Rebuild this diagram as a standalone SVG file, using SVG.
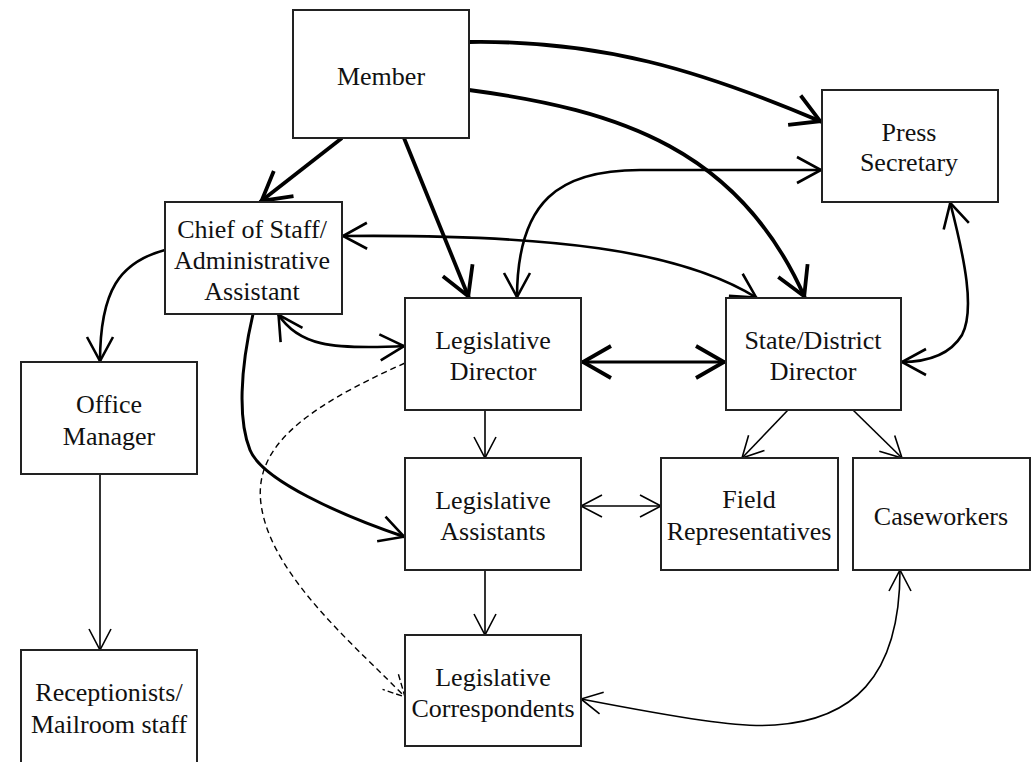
<svg xmlns="http://www.w3.org/2000/svg" width="1036" height="762" viewBox="0 0 1036 762">
<style>
.box{fill:#fff;stroke:#222;stroke-width:2}
text{font-family:'Liberation Serif','DejaVu Serif',Times,serif;font-size:26px;fill:#111;text-anchor:middle}
.c{fill:none;stroke:#000;stroke-linecap:butt}
.thin{stroke-width:1.6}
.med{stroke-width:2.6}
.thick{stroke-width:3.8}
.dash{stroke-width:1.4;stroke-dasharray:6 4}
</style>
<defs>
<marker id="aThin" viewBox="-30 -16 34 32" refX="0" refY="0" markerWidth="34" markerHeight="32" markerUnits="userSpaceOnUse" orient="auto-start-reverse">
<path d="M-21,-11 L0,0 L-21,11" fill="none" stroke="#000" stroke-width="1.6"/>
</marker>
<marker id="aDash" viewBox="-30 -16 34 32" refX="0" refY="0" markerWidth="34" markerHeight="32" markerUnits="userSpaceOnUse" orient="auto-start-reverse">
<path d="M-21,-11 L0,0 L-21,11" fill="none" stroke="#000" stroke-width="1.4" stroke-dasharray="6 3"/>
</marker>
<marker id="aMed" viewBox="-32 -18 36 36" refX="0" refY="0" markerWidth="36" markerHeight="36" markerUnits="userSpaceOnUse" orient="auto-start-reverse">
<path d="M-25,-13 L-1,0 L-25,13" fill="none" stroke="#000" stroke-width="2.6"/>
</marker>
<marker id="aThick" viewBox="-36 -20 40 40" refX="0" refY="0" markerWidth="40" markerHeight="40" markerUnits="userSpaceOnUse" orient="auto-start-reverse">
<path d="M-30,-16 L-2,0 L-30,16" fill="none" stroke="#000" stroke-width="3.8"/>
</marker>
</defs>

<g id="connectors">
<path class="c thick" d="M342,138 L260,202" marker-end="url(#aThick)"/>
<path class="c thick" d="M404,138 L469,298" marker-end="url(#aThick)"/>
<path class="c thick" d="M469,42 C600,40 700,70 822,122" marker-end="url(#aThick)"/>
<path class="c thick" d="M469,90 C620,110 740,150 805,298" marker-end="url(#aThick)"/>
<path class="c med" d="M342,236 C550,234 680,250 757,298" marker-start="url(#aMed)" marker-end="url(#aMed)"/>
<path class="c med" d="M822,170 L640,170 C560,170 517,200 517,298" marker-start="url(#aMed)" marker-end="url(#aMed)"/>
<path class="c med" d="M950,202 C965,260 975,310 962,335 C948,358 920,362 901,362" marker-start="url(#aMed)" marker-end="url(#aMed)"/>
<path class="c thick" d="M581,362 L726,362" style="stroke-width:3.2" marker-start="url(#aThick)" marker-end="url(#aThick)"/>
<path class="c med" d="M278,314 C298,345 330,350 405,346" marker-start="url(#aMed)" marker-end="url(#aMed)"/>
<path class="c med" d="M165,250 C120,262 100,290 100,362" marker-end="url(#aMed)"/>
<path class="c med" d="M253,314 C240,370 238,420 250,450 C262,480 340,515 405,537" style="stroke-width:3" marker-end="url(#aMed)"/>
<path class="c thin" d="M485,410 L485,458" marker-end="url(#aThin)"/>
<path class="c thin" d="M788,410 L742,458" marker-end="url(#aThin)"/>
<path class="c thin" d="M853,410 L902,458" marker-end="url(#aThin)"/>
<path class="c thin" d="M581,506 L661,506" marker-start="url(#aThin)" marker-end="url(#aThin)"/>
<path class="c thin" d="M485,570 L485,635" marker-end="url(#aThin)"/>
<path class="c thin" d="M100,474 L100,650" marker-end="url(#aThin)"/>
<path class="c thin" d="M581,699 C680,718 740,728 775,725 C850,720 900,680 900,570" marker-start="url(#aThin)" marker-end="url(#aThin)"/>
<path class="c dash" d="M405,363 C300,410 250,450 262,510 C275,580 360,650 405,697" marker-end="url(#aDash)"/>
</g>

<g id="member"><rect class="box" x="293" y="10" width="176" height="128"/><text x="381" y="85">Member</text></g>
<g id="press-secretary"><rect class="box" x="822" y="90" width="176" height="112"/><text x="909" y="141">Press</text><text x="909" y="171">Secretary</text></g>
<g id="chief-of-staff"><rect class="box" x="165" y="202" width="177" height="112"/><text x="252" y="238">Chief of Staff/</text><text x="252" y="269">Administrative</text><text x="252" y="300">Assistant</text></g>
<g id="office-manager"><rect class="box" x="21" y="362" width="176" height="112"/><text x="109" y="413">Office</text><text x="109" y="445">Manager</text></g>
<g id="receptionists"><rect class="box" x="21" y="650" width="176" height="114"/><text x="109" y="701">Receptionists/</text><text x="109" y="733">Mailroom staff</text></g>
<g id="legislative-director"><rect class="box" x="405" y="298" width="176" height="112"/><text x="493" y="349">Legislative</text><text x="493" y="380">Director</text></g>
<g id="state-district-director"><rect class="box" x="726" y="298" width="175" height="112"/><text x="813" y="349">State/District</text><text x="813" y="380">Director</text></g>
<g id="legislative-assistants"><rect class="box" x="405" y="458" width="176" height="112"/><text x="493" y="509">Legislative</text><text x="493" y="540">Assistants</text></g>
<g id="field-representatives"><rect class="box" x="661" y="458" width="177" height="112"/><text x="749" y="508">Field</text><text x="749" y="540">Representatives</text></g>
<g id="caseworkers"><rect class="box" x="853" y="458" width="177" height="112"/><text x="941" y="525">Caseworkers</text></g>
<g id="legislative-correspondents"><rect class="box" x="405" y="635" width="176" height="111"/><text x="493" y="686">Legislative</text><text x="493" y="717">Correspondents</text></g>
</svg>
